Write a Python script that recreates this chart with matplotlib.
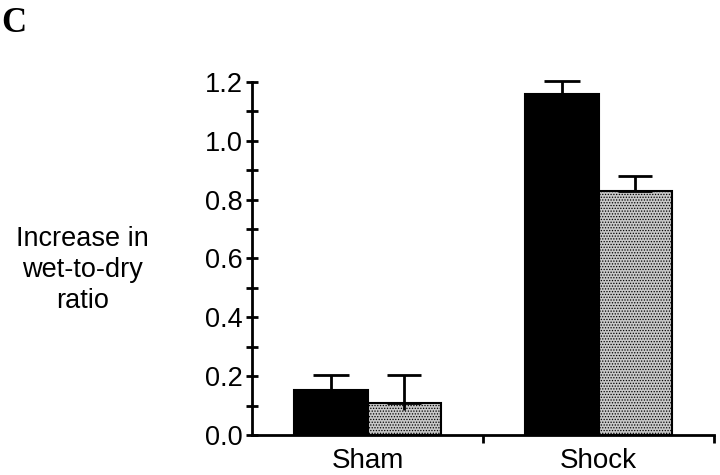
import matplotlib
matplotlib.use("Agg")
import numpy as np
import matplotlib.pyplot as plt
from matplotlib.ticker import MultipleLocator, FixedLocator, NullFormatter

plt.rcParams["font.family"] = ["Liberation Sans", "DejaVu Sans"]
plt.rcParams["hatch.linewidth"] = 0.6
plt.rcParams["hatch.color"] = "#606060"

groups = ["Sham", "Shock"]
black_vals = [0.153, 1.160]
black_err = [0.050, 0.043]
gray_vals = [0.109, 0.831]
gray_err_up = [0.096, 0.048]
gray_err_down = [0.024, 0.0]

group_pos = [0.5, 1.5]
width = 0.32

fig = plt.figure(figsize=(7.2, 4.75), dpi=100)
ax = fig.add_axes([0.35, 0.0842, 0.6417, 0.7432])

xb = [p - 0.16 for p in group_pos]
xg = [p + 0.16 for p in group_pos]

ax.bar(xb, black_vals, width, color="black", edgecolor="black", linewidth=1.5, zorder=2)
ax.bar(xg, gray_vals, width, color="#c8c8c8", edgecolor="black", linewidth=1.5,
       hatch="......", zorder=2)
eb1 = ax.errorbar(xb, black_vals, yerr=[[0, 0], black_err], fmt="none", ecolor="black",
                  elinewidth=2, capsize=13, capthick=2, zorder=3)
eb2 = ax.errorbar(xg, gray_vals, yerr=[[0, 0], gray_err_up], fmt="none", ecolor="black",
                  elinewidth=2, capsize=12.5, capthick=2, zorder=3)
# lower whisker only shows as a stub inside the stippled bar
ax.vlines(xg, np.array(gray_vals) - np.array(gray_err_down), gray_vals,
          colors="black", linewidth=2, zorder=3)
for eb in (eb1, eb2):
    for art in eb.lines[1] + eb.lines[2]:
        art.set_clip_on(False)

ax.set_xlim(0, 2)
ax.set_ylim(0, 1.2)
for s in ["top", "right"]:
    ax.spines[s].set_visible(False)
for s in ["left", "bottom"]:
    ax.spines[s].set_linewidth(2)

ax.yaxis.set_major_locator(MultipleLocator(0.2))
ax.yaxis.set_minor_locator(MultipleLocator(0.1))
ax.yaxis.set_major_formatter(plt.FuncFormatter(lambda v, p: f"{v:.1f}"))
ax.tick_params(axis="y", which="major", direction="inout", length=9, width=2,
               labelsize=19.5, pad=2)
ax.tick_params(axis="y", which="minor", direction="inout", length=8, width=2)

ax.xaxis.set_major_locator(FixedLocator([1.0, 2.0]))
ax.xaxis.set_major_formatter(NullFormatter())
ax.set_xticks(group_pos, groups, minor=True)
ax.tick_params(axis="x", which="major", direction="out", length=6, width=2)
ax.tick_params(axis="x", which="minor", length=0, labelsize=20, pad=9)
for sp in ax.spines.values():
    sp.set_clip_on(False)

fig.text(0.115, 0.432, "Increase in\nwet-to-dry\nratio", ha="center", va="center",
         fontsize=19.5, linespacing=1.25)
fig.text(0.002, 0.985, "C", ha="left", va="top", fontsize=25, fontweight="bold",
         family=["Liberation Serif", "DejaVu Serif"])

fig.savefig("out.png", dpi=100)
